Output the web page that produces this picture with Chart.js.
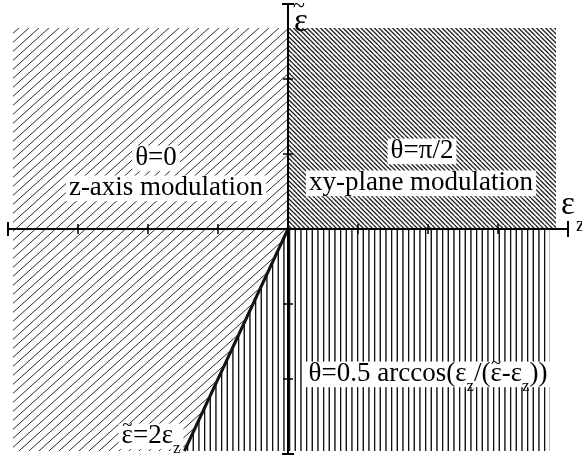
<!DOCTYPE html>
<html>
<head>
<meta charset="utf-8">
<script src="https://cdn.jsdelivr.net/npm/chart.js@4"></script>
<style>
  body { margin: 0; background: #fff; }
</style>
</head>
<body>
<canvas id="phaseChart" width="582" height="461"></canvas>
<script>
// axis range and tick positions
const xRange = [-4, 4];
const yRange = [-3, 3];
const xTicks = [-3, -2, -1, 1, 2, 3];
const yTicks = [-2, -1, 1, 2];

// theta = 0 region (left side), lower edge, filled up to leftTop
const leftX = [-3.93, -1.48, 0];
const leftY = [-2.96, -2.96, 0];
const leftTop = 2.68;

// theta = pi/2 region (upper right)
const upRightX = [0, 3.83];
const upRightY = [2.68, 2.68];

// mixed region (lower right), upper edge, filled down to lowBottom
const lowRightX = [-1.48, 0, 3.74];
const lowRightY = [-2.96, 0, 0];
const lowBottom = -2.96;

// boundary eps~ = 2 eps_z
const boundX = [0, -1.48];
const boundY = [0, -2.96];

const FONT = "'Liberation Serif', 'Times New Roman', serif";

const canvas = document.getElementById("phaseChart");
const ctx = canvas.getContext("2d");

function makePattern(w, h, draw) {
  const tile = document.createElement("canvas");
  tile.width = w;
  tile.height = h;
  draw(tile.getContext("2d"), w, h);
  return ctx.createPattern(tile, "repeat");
}

const slashPattern = makePattern(10, 9, (g, w, h) => {
  g.strokeStyle = "#2a2a2a";
  g.lineWidth = 1;
  for (let k = -1; k <= 1; k++) {
    g.beginPath();
    g.moveTo(k * w, h);
    g.lineTo((k + 1) * w, 0);
    g.stroke();
  }
});

const backPattern = makePattern(9, 9, (g, w, h) => {
  g.strokeStyle = "#222";
  g.lineWidth = 1.3;
  for (let k = -3; k <= 3; k++) {
    g.beginPath();
    g.moveTo(k * 4.5, 0);
    g.lineTo(k * 4.5 + w, h);
    g.stroke();
  }
});

const vertPattern = makePattern(17, 4, (g, w, h) => {
  g.strokeStyle = "#111";
  g.lineWidth = 1.4;
  for (let k = 0; k < 3; k++) {
    const x = 0.6 + k * w / 3;
    g.beginPath();
    g.moveTo(x, 0);
    g.lineTo(x, h);
    g.stroke();
  }
});

function pts(xs, ys) {
  return xs.map((x, i) => ({ x: x, y: ys[i] }));
}

function richText(c, parts, cx, base, size, box) {
  const subSize = size * 0.62;
  let w = 0;
  parts.forEach(p => {
    c.font = (p.sub ? subSize : size) + "px " + FONT;
    p.w = c.measureText(p.t).width;
    w += p.w;
  });
  let x = cx - w / 2;
  if (box) {
    c.fillStyle = "#fff";
    c.fillRect(x - 3, base - size * 0.72, w + 6, size * 0.95);
  }
  c.fillStyle = "#000";
  c.textBaseline = "alphabetic";
  c.textAlign = "left";
  parts.forEach(p => {
    c.font = (p.sub ? subSize : size) + "px " + FONT;
    c.fillText(p.t, x, base + (p.sub ? size * 0.36 : 0));
    if (p.tilde) {
      c.font = (size * 0.7) + "px " + FONT;
      const tw = c.measureText("~").width;
      c.fillText("~", x + (p.w - tw) / 2, base - size * 0.45);
    }
    x += p.w;
  });
}

const axesPlugin = {
  id: "axes",
  beforeDraw(chart) {
    const c = chart.ctx;
    c.save();
    c.fillStyle = "#fff";
    c.fillRect(0, 0, chart.width, chart.height);
    c.restore();
  },
  afterDatasetsDraw(chart) {
    const c = chart.ctx;
    const sx = chart.scales.x;
    const sy = chart.scales.y;
    const x0 = sx.getPixelForValue(0);
    const y0 = sy.getPixelForValue(0);
    const xl = sx.getPixelForValue(xRange[0]);
    const xr = sx.getPixelForValue(xRange[1]);
    const yt = sy.getPixelForValue(yRange[1]);
    const yb = sy.getPixelForValue(yRange[0]);
    c.save();
    c.strokeStyle = "#000";
    c.lineWidth = 2;
    c.beginPath();
    c.moveTo(xl, y0); c.lineTo(xr, y0);
    c.moveTo(x0, yt); c.lineTo(x0, yb);
    // end caps
    c.moveTo(xl, y0 - 7); c.lineTo(xl, y0 + 7);
    c.moveTo(xr, y0 - 8); c.lineTo(xr, y0 + 8);
    c.moveTo(x0 - 6, yt); c.lineTo(x0 + 6, yt);
    c.moveTo(x0 - 6, yb); c.lineTo(x0 + 6, yb);
    c.stroke();
    c.lineWidth = 1.5;
    c.beginPath();
    xTicks.forEach(v => {
      const p = sx.getPixelForValue(v);
      c.moveTo(p, y0 - 5); c.lineTo(p, y0 + 5);
    });
    yTicks.forEach(v => {
      const p = sy.getPixelForValue(v);
      c.moveTo(x0 - 5, p); c.lineTo(x0 + 5, p);
    });
    c.stroke();

    // axis names
    richText(c, [{ t: "ε" }], 301, 31, 33, false);
    c.font = "22px " + FONT;
    c.fillText("~", 293, 12);
    richText(c, [{ t: "ε" }], 568, 214, 33, false);
    c.font = "20px " + FONT;
    c.fillText("z", 576, 231);

    // region labels
    richText(c, [{ t: "θ=0" }], 156, 165, 27, true);
    richText(c, [{ t: "z-axis modulation" }], 166, 195, 27, true);
    richText(c, [{ t: "θ=π/2" }], 422, 158, 27, true);
    richText(c, [{ t: "xy-plane modulation" }], 421, 190, 27, true);
    richText(c, [
      { t: "θ=0.5 arccos(ε" }, { t: "z", sub: true }, { t: "/(" },
      { t: "ε", tilde: true }, { t: "-ε" }, { t: "z", sub: true }, { t: "))" }
    ], 428, 381, 27, true);
    richText(c, [
      { t: "ε", tilde: true }, { t: "=2ε" }, { t: "z", sub: true }
    ], 151, 443, 27, true);
    c.restore();
  }
};

new Chart(ctx, {
  type: "line",
  data: {
    datasets: [
      {
        data: pts(leftX, leftY),
        fill: { value: leftTop },
        backgroundColor: slashPattern,
        borderColor: "transparent",
        borderWidth: 0,
        pointRadius: 0
      },
      {
        data: pts(upRightX, upRightY),
        fill: { value: 0 },
        backgroundColor: backPattern,
        borderColor: "transparent",
        borderWidth: 0,
        pointRadius: 0
      },
      {
        data: pts(lowRightX, lowRightY),
        fill: { value: lowBottom },
        backgroundColor: vertPattern,
        borderColor: "transparent",
        borderWidth: 0,
        pointRadius: 0
      },
      {
        data: pts(boundX, boundY),
        fill: false,
        borderColor: "#111",
        borderWidth: 3,
        pointRadius: 0
      }
    ]
  },
  options: {
    responsive: false,
    animation: false,
    layout: { padding: { left: 8, right: 14, top: 4, bottom: 7 } },
    plugins: {
      legend: { display: false },
      tooltip: { enabled: false }
    },
    scales: {
      x: { type: "linear", display: false, min: xRange[0], max: xRange[1] },
      y: { type: "linear", display: false, min: yRange[0], max: yRange[1] }
    }
  },
  plugins: [axesPlugin]
});
</script>
</body>
</html>
